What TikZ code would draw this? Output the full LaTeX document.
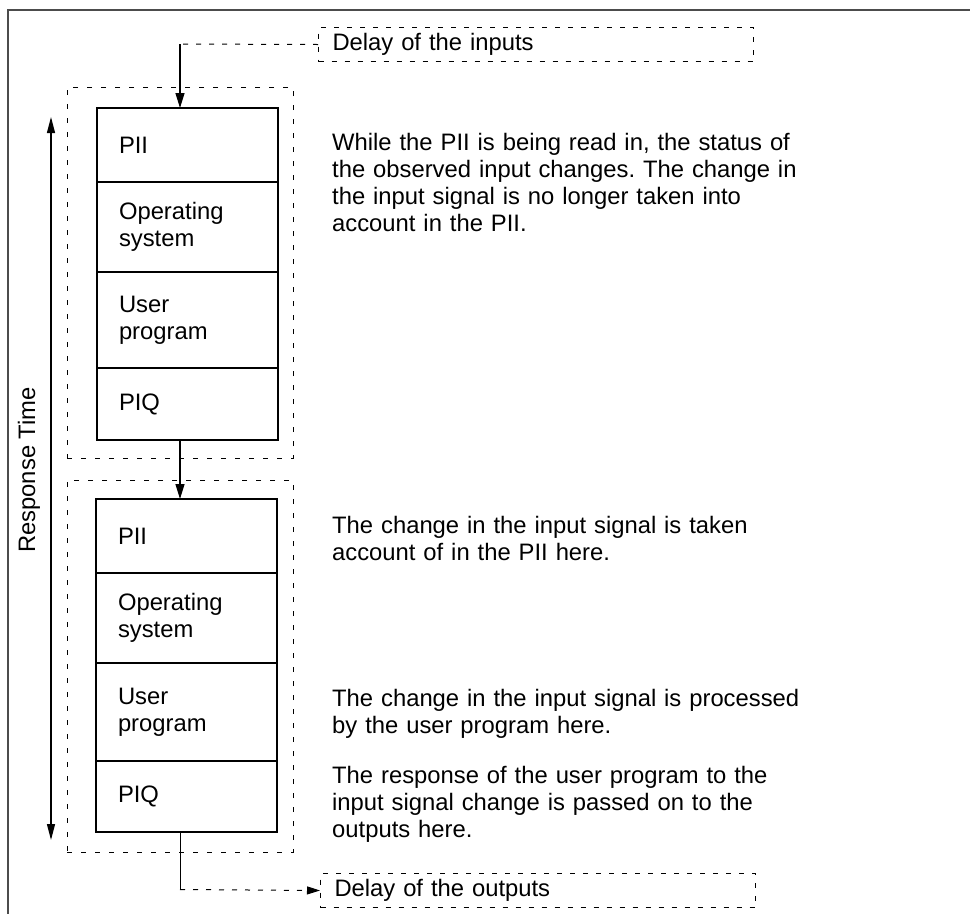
\documentclass[tikz,border=0pt]{standalone}
\usepackage{fontspec}
\setmainfont{Liberation Sans}
\usetikzlibrary{positioning,arrows.meta,fit}
\frenchspacing

\begin{document}
\begin{tikzpicture}[x=1pt,y=-1pt,
    stage/.style={draw, line width=1.3pt, outer sep=0pt, minimum width=181pt,
      text width=137pt, inner xsep=22pt, inner ysep=0pt, align=left,
      font=\fontsize{23.8}{27}\selectfont},
    group/.style={draw, line width=1pt, dash pattern=on 5pt off 9pt, inner sep=0pt},
    delaybox/.style={draw, line width=1pt, dash pattern=on 5pt off 8pt, anchor=north west,
      minimum width=435pt, minimum height=34pt, text width=407pt, inner xsep=14pt,
      inner ysep=0pt, align=left, font=\fontsize{23.8}{27}\selectfont},
    note/.style={anchor=base west, inner sep=0pt, text width=470pt, align=left,
      font=\fontsize{23.8}{27.2}\selectfont},
    arr/.style={line width=1.3pt, -{Triangle[length=15pt,width=9pt]}},
    dashline/.style={line width=1pt, dash pattern=on 5pt off 8pt}]

    % Page size and open frame (top and left only)
    \useasboundingbox (0,0) rectangle (970,914);
    \draw[line width=2pt, black!70] (970,10) -- (8,10) -- (8,914);

    % Delay boxes
    \node[delaybox] (inDelay) at (318,27) {Delay of the inputs};
    \node[delaybox, minimum width=433pt] (outDelay) at (320,873) {Delay of the outputs};

    % First cycle
    \node[group, fit={(67,87) (293,458)}] (cycle1) {};
    \node[stage, minimum height=74pt, anchor=north west] (pii1) at (97,108) {PII};
    \node[stage, minimum height=90pt, below=0pt of pii1] (os1) {Operating\\system};
    \node[stage, minimum height=96pt, below=0pt of os1] (user1) {User\\program};
    \node[stage, minimum height=72pt, below=0pt of user1] (piq1) {PIQ};

    % Second cycle
    \node[group, fit={(67,480) (293,852)}] (cycle2) {};
    \node[stage, minimum height=74pt, anchor=north west] (pii2) at (96,499) {PII};
    \node[stage, minimum height=90pt, below=0pt of pii2] (os2) {Operating\\system};
    \node[stage, minimum height=98pt, below=0pt of os2] (user2) {User\\program};
    \node[stage, minimum height=71pt, below=0pt of user2] (piq2) {PIQ};

    % Connectors
    \coordinate (inBend) at (180,44);
    \coordinate (outBend) at (180,889.5);
    \draw[dashline] (inDelay.west) -- (inBend);
    \draw[arr] (inBend) -- (inBend |- pii1.north);
    \draw[arr] (inBend |- piq1.south) -- (inBend |- pii2.north);
    \draw[line width=1pt] (outBend |- piq2.south) -- (outBend);
    \draw[dashline, -{Triangle[length=13pt,width=8pt]}] (outBend) -- (outDelay.west);

    % Response time
    \coordinate (rtTop) at (51,117);
    \coordinate (rtBot) at (51,840);
    \draw[line width=1.3pt, {Triangle[length=16pt,width=8pt]}-{Triangle[length=16pt,width=8pt]}] (rtTop) -- (rtBot);
    \node[rotate=90, font=\fontsize{23.8}{27}\selectfont] (rtLabel) at (29,470) {Response Time};

    % Notes
    \node[note] (note1) at (332,150) {While the PII is being read in, the status of\\the observed input changes. The change in\\the input signal is no longer taken into\\account in the PII.};
    \node[note] (note2) at (332,533) {The change in the input signal is taken\\account of in the PII here.};
    \node[note] (note3) at (332,706) {The change in the input signal is processed\\by the user program here.};
    \node[note] (note4) at (332,783) {The response of the user program to the\\input signal change is passed on to the\\outputs here.};

\end{tikzpicture}
\end{document}
